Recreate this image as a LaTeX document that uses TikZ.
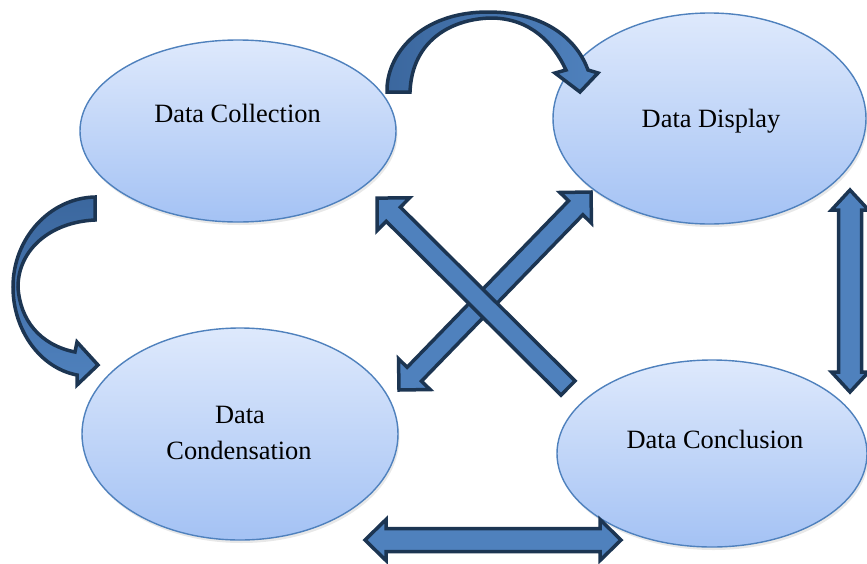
\documentclass[tikz,border=0pt]{standalone}
\usepackage{fontspec}
\setmainfont{Liberation Serif}
\usetikzlibrary{shapes.geometric,shadows,calc}

\definecolor{elltop}{HTML}{DEE9FC}
\definecolor{ellbot}{HTML}{A4C2F4}
\definecolor{ellline}{HTML}{4F81BD}
\definecolor{arrfill}{HTML}{4F81BD}
\definecolor{arrdark}{HTML}{3B679E}
\definecolor{arrline}{HTML}{1C3552}

\tikzset{
  stage/.style={ellipse, draw=ellline, line width=1.4pt, inner sep=0pt,
    top color=elltop, bottom color=ellbot,
    drop shadow={opacity=0.18, shadow xshift=1.5pt, shadow yshift=-3pt}},
  stagetext/.style={anchor=base, text=black, font=\fontsize{26.4}{32}\selectfont},
  blockarrow/.style={draw=arrline, fill=arrfill, line width=3.5pt, line join=miter},
}

% block arrow with heads at both ends: start, end, shaft half-width, head half-width, head length
\newcommand\doublearrow[5]{%
  \path let \p1=($(#2)-(#1)$) in
    \pgfextra{\pgfmathparse{veclen(\x1,\y1)}\xdef\arrlen{\pgfmathresult}%
              \pgfmathparse{atan2(\y1,\x1)}\xdef\arrang{\pgfmathresult}};
  \begin{scope}[shift={(#1)}, rotate=\arrang]
    \filldraw[blockarrow] (0,0) -- (#5,#4) -- (#5,#3) -- ({\arrlen-#5},#3)
      -- ({\arrlen-#5},#4) -- (\arrlen,0) -- ({\arrlen-#5},-#4)
      -- ({\arrlen-#5},-#3) -- (#5,-#3) -- (#5,-#4) -- cycle;
  \end{scope}}

% block arrow with a single head at the end point
\newcommand\singlearrow[5]{%
  \path let \p1=($(#2)-(#1)$) in
    \pgfextra{\pgfmathparse{veclen(\x1,\y1)}\xdef\arrlen{\pgfmathresult}%
              \pgfmathparse{atan2(\y1,\x1)}\xdef\arrang{\pgfmathresult}};
  \begin{scope}[shift={(#1)}, rotate=\arrang]
    \filldraw[blockarrow] (0,#3) -- ({\arrlen-#5},#3) -- ({\arrlen-#5},#4)
      -- (\arrlen,0) -- ({\arrlen-#5},-#4) -- ({\arrlen-#5},-#3)
      -- (0,-#3) -- cycle;
  \end{scope}}

\begin{document}
\begin{tikzpicture}[x=1pt, y=-1pt]
  \fill[white] (0,0) rectangle (867,563);
  \useasboundingbox (0,0) rectangle (867,563);

  % the four stages
  \node[stage, minimum width=316pt, minimum height=182pt] (collect) at (238,131) {};
  \node[stage, minimum width=313pt, minimum height=211pt] (display) at (709.5,118.5) {};
  \node[stage, minimum width=316pt, minimum height=212pt] (condense) at (240,434) {};
  \node[stage, minimum width=310pt, minimum height=187pt] (conclude) at (712,453.5) {};

  \node[stagetext] (collectT) at (237.5,122) {Data Collection};
  \node[stagetext] (displayT) at (711,127) {Data Display};
  \node[stagetext] (condenseT1) at (240,423) {Data};
  \node[stagetext] (condenseT2) at (239,459) {Condensation};
  \node[stagetext] (concludeT) at (715,448) {Data Conclusion};

  % end points of the straight block arrows
  \coordinate (xb1) at (399,390);
  \coordinate (xb2) at (591,192);
  \coordinate (xa1) at (568,388);
  \coordinate (xa2) at (377,198);
  \coordinate (v1) at (850,190);
  \coordinate (v2) at (850,392);
  \coordinate (h1) at (365,540);
  \coordinate (h2) at (621,540);

  \doublearrow{xb1}{xb2}{10}{22}{22}
  \singlearrow{xa1}{xa2}{10}{23}{23}
  \doublearrow{v1}{v2}{11.5}{18.5}{20}
  \doublearrow{h1}{h2}{11.5}{20.5}{21}

  % curved arrow: Data Collection -> Data Display
  \filldraw[draw=arrline, line width=3.5pt, line join=miter,
            left color=arrdark, right color=arrfill]
    (387,92) .. controls (386,55) and (420,12) .. (488,12)
    .. controls (548,12) and (578,42) .. (588,70)
    -- (598,73) -- (580,92) -- (555,73) -- (566,70)
    .. controls (553,42) and (530,19) .. (493,18)
    .. controls (455,18) and (412,38) .. (410,92) -- cycle;

  % curved arrow: Data Collection -> Data Condensation
  \filldraw[draw=arrline, line width=3.5pt, line join=miter,
            top color=arrdark, bottom color=arrfill]
    (95,197) .. controls (50,198) and (13,238) .. (13,287)
    .. controls (13,330) and (40,368) .. (77,375)
    -- (77,385) -- (98,365) -- (77,342) -- (75,352)
    .. controls (40,345) and (20,320) .. (18,287)
    .. controls (18,250) and (50,222) .. (95,220) -- cycle;
\end{tikzpicture}
\end{document}
